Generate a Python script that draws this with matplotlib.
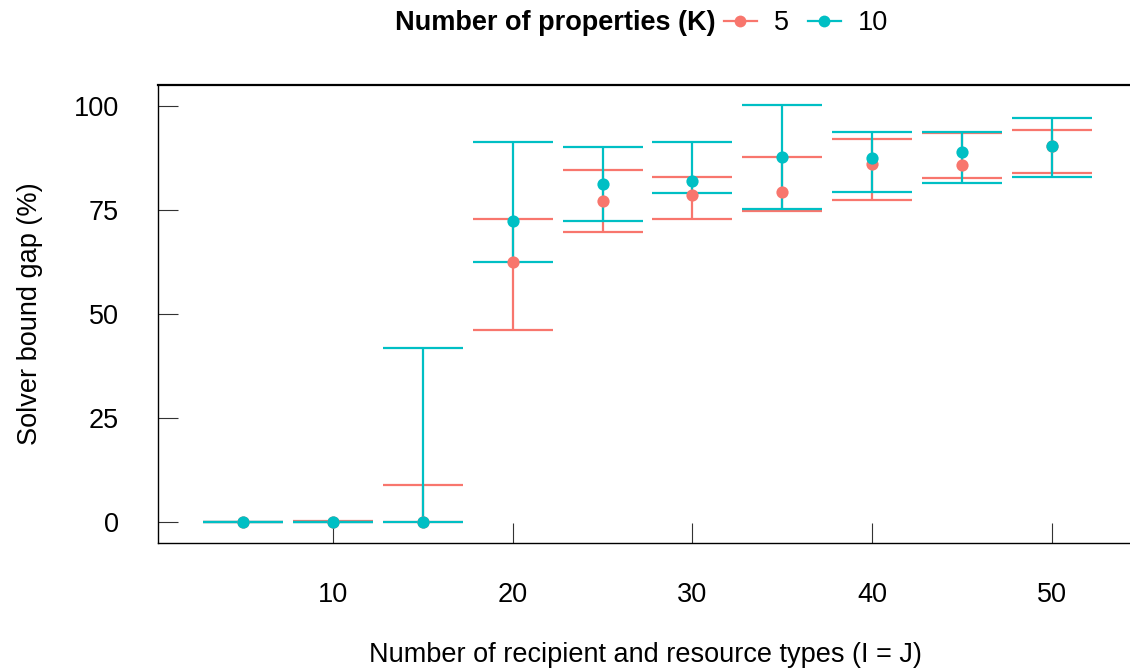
import matplotlib.pyplot as plt
import numpy as np

plt.rcParams['font.family'] = ['Liberation Sans', 'DejaVu Sans']

# ---- data -------------------------------------------------------
sizes = [5, 10, 15, 20, 25, 30, 35, 40, 45, 50]
groups = ["5", "10"]
colors = ["#F8766D", "#00BFC4"]

mean_k5 = [0.0, 0.1, 0.0, 62.5, 77.2, 78.6, 79.4, 86.0, 85.9, 90.3]
low_k5 = [0.0, 0.0, 0.0, 46.2, 69.8, 72.8, 74.7, 77.4, 82.7, 83.8]
high_k5 = [0.0, 0.4, 8.9, 72.9, 84.6, 83.0, 87.6, 92.0, 93.4, 94.2]

mean_k10 = [0.0, 0.0, 0.0, 72.4, 81.2, 81.9, 87.8, 87.4, 88.8, 90.4]
low_k10 = [0.0, 0.0, 0.0, 62.6, 72.4, 79.0, 75.2, 79.2, 81.4, 83.0]
high_k10 = [0.0, 0.0, 41.9, 91.2, 90.0, 91.2, 100.1, 93.6, 93.8, 97.0]

means = [mean_k5, mean_k10]
lows = [low_k5, low_k10]
highs = [high_k5, high_k10]

yticks = [0, 25, 50, 75, 100]
xticks = [10, 20, 30, 40, 50]

FS = 19.5

# ---- figure -----------------------------------------------------
W, H = 1130, 671
fig = plt.figure(figsize=(W / 100, H / 100), dpi=100)
ax = fig.add_axes([158 / W, (H - 543) / H, 979 / W, 458 / H])

x = np.array(sizes)
for i in range(2):
    m = np.array(means[i])
    lo = np.array(lows[i])
    hi = np.array(highs[i])
    ax.errorbar(x, m, yerr=[m - lo, hi - m], fmt='none', ecolor=colors[i],
                elinewidth=1.6, capsize=29, capthick=1.6, zorder=2 + i)
for i in range(2):
    ax.plot(x, means[i], 'o', color=colors[i], markersize=8.8,
            markeredgewidth=0, zorder=5 + i)

ax.set_xlim(0.275, 54.725)
ax.set_ylim(-5, 105)
ax.set_xticks(xticks)
ax.set_yticks(yticks)
ax.tick_params(direction='in', length=14.5, width=0.8, color='#333333',
               labelsize=FS, labelcolor='black', pad=28)

ax.spines['right'].set_visible(False)
ax.spines['top'].set_linewidth(1.6)
ax.spines['left'].set_linewidth(1.0)
ax.spines['bottom'].set_linewidth(1.0)

ax.set_ylabel("Solver bound gap (%)", fontsize=FS, labelpad=22)
fig.text(645 / W, 1 - 655 / H, "Number of recipient and resource types (I = J)",
         ha='center', va='center', fontsize=FS)

# ---- legend on top, title inline --------------------------------
fig.text(716 / W, 1 - 23 / H, "Number of properties (K)", ha='right',
         va='center', fontsize=FS, fontweight='bold')
handles = [plt.Line2D([], [], color=colors[i], marker='o', markersize=8.5,
                      markeredgewidth=0, linewidth=1.6) for i in range(2)]
fig.legend(handles, groups, loc='center left', bbox_to_anchor=(724 / W, 1 - 23 / H),
           ncol=2, frameon=False, fontsize=FS, borderaxespad=0, borderpad=0,
           handlelength=1.2, handletextpad=0.65, columnspacing=0.7)

fig.savefig("out.png", dpi=100)
